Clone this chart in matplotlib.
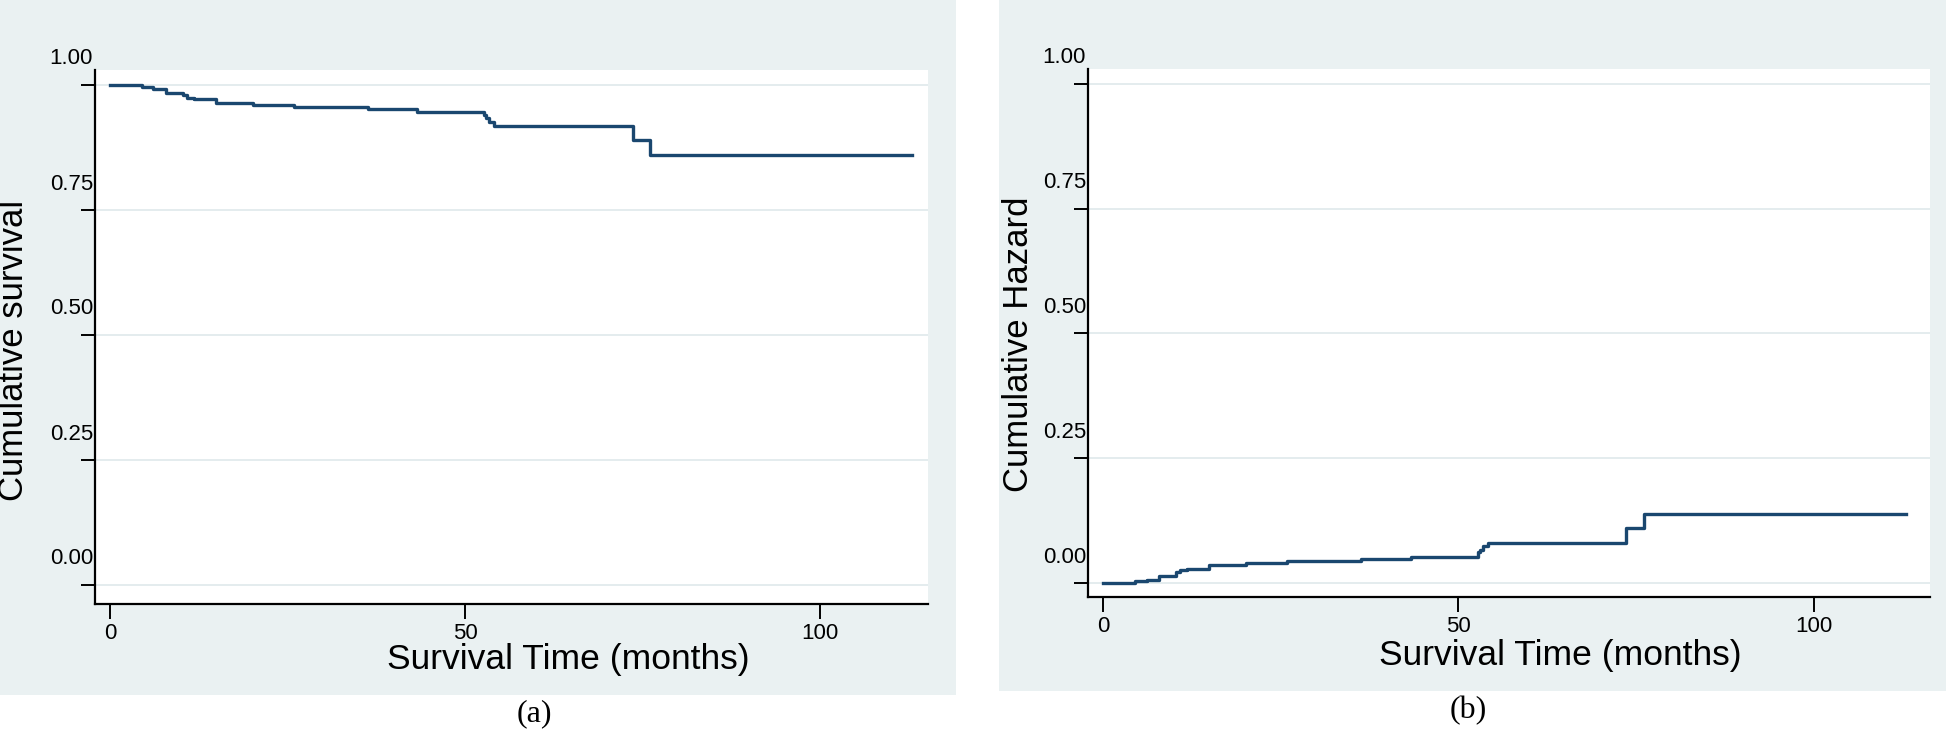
import matplotlib
matplotlib.use("Agg")
import matplotlib.pyplot as plt
from matplotlib.patches import Rectangle
from matplotlib.transforms import ScaledTranslation

# --- data ---
months = [0, 4.5, 6.1, 7.9, 10.3, 10.8, 11.8, 14.9, 20.1, 25.9, 36.3, 43.3,
          52.7, 53.0, 53.4, 54.1, 73.6, 76.1, 113.0]
survival = [1.0, 0.9966, 0.9926, 0.9846, 0.9794, 0.974, 0.9714, 0.9646, 0.9606,
            0.9566, 0.952, 0.946, 0.940, 0.9334, 0.9254, 0.918, 0.89, 0.86, 0.86]
hazard = [0.0, 0.0034, 0.0066, 0.0146, 0.0214, 0.0254, 0.0288, 0.0366, 0.0394,
          0.0434, 0.0474, 0.052, 0.062, 0.067, 0.074, 0.081, 0.110, 0.139, 0.139]
yticks = [0.0, 0.25, 0.5, 0.75, 1.0]
ytick_labels = ["0.00", "0.25", "0.50", "0.75", "1.00"]
xticks = [0, 50, 100]

W, H, DPI = 1946, 734, 100
BG = "#eaf1f2"
LINE = "#1a476f"
GRID = "#e4ecee"

plt.rcParams["font.family"] = ["Liberation Sans", "DejaVu Sans"]

fig = plt.figure(figsize=(W / DPI, H / DPI), dpi=DPI)
fig.patch.set_facecolor("white")

# grey graph regions (Stata style)
fig.add_artist(Rectangle((0, 1 - 695 / H), 956 / W, 695 / H, transform=fig.transFigure,
                         facecolor=BG, edgecolor="none", zorder=0))
fig.add_artist(Rectangle((999 / W, 1 - 691 / H), 947 / W, 691 / H, transform=fig.transFigure,
                         facecolor=BG, edgecolor="none", zorder=0))


def panel(rect, y, ylabel, ylim, xlim, ylab_pos, xlab_pos):
    ax = fig.add_axes(rect)
    ax.set_facecolor("white")
    ax.step(months, y, where="post", color=LINE, lw=2.4, zorder=3)
    ax.set_xlim(*xlim)
    ax.set_ylim(*ylim)
    for s in ("top", "right"):
        ax.spines[s].set_visible(False)
    for s in ("left", "bottom"):
        ax.spines[s].set_linewidth(1.6)
        ax.spines[s].set_color("black")
    for v in yticks:
        ax.axhline(v, color=GRID, lw=1.4, zorder=1)
    ax.set_yticks(yticks)
    ax.set_yticklabels([])
    ax.tick_params(axis="y", length=10, width=1.4, direction="out")
    # stata export quirk: labels sit above and right of their ticks
    off = ScaledTranslation(-2 / DPI, 26 / DPI, fig.dpi_scale_trans)
    for v, lab in zip(yticks, ytick_labels):
        ax.text(0, v, lab, transform=ax.get_yaxis_transform() + off,
                ha="right", va="center", fontsize=16, clip_on=False)
    ax.set_xticks(xticks)
    ax.set_xticklabels([str(t) for t in xticks], fontsize=16)
    ax.tick_params(axis="x", length=11, width=1.4, direction="out", pad=3)
    ax.set_ylabel(ylabel, fontsize=25)
    ax.yaxis.set_label_coords(*ylab_pos)
    ax.yaxis.label.set_va("center")
    ax.set_xlabel("Survival Time (months)", fontsize=25.5)
    ax.xaxis.set_label_coords(*xlab_pos)
    ax.xaxis.label.set_va("center")
    return ax


panel([95 / W, 1 - 604 / H, 833 / W, 534 / H], survival, "Cumulative survival",
      (-0.038, 1.03), (-2.11, 115.2), (-0.098, 0.474), (0.568, -0.103))
panel([1088 / W, 1 - 597 / H, 842 / W, 528 / H], hazard, "Cumulative Hazard",
      (-0.028, 1.030), (-2.15, 116.4), (-0.083, 0.478), (0.5606, -0.11))

fig.text(534 / W, 1 - 714 / H, "(a)", ha="center", va="center", fontsize=23,
         family=["Liberation Serif", "DejaVu Serif"])
fig.text(1468 / W, 1 - 711 / H, "(b)", ha="center", va="center", fontsize=23,
         family=["Liberation Serif", "DejaVu Serif"])

fig.savefig("out.png", dpi=DPI)
